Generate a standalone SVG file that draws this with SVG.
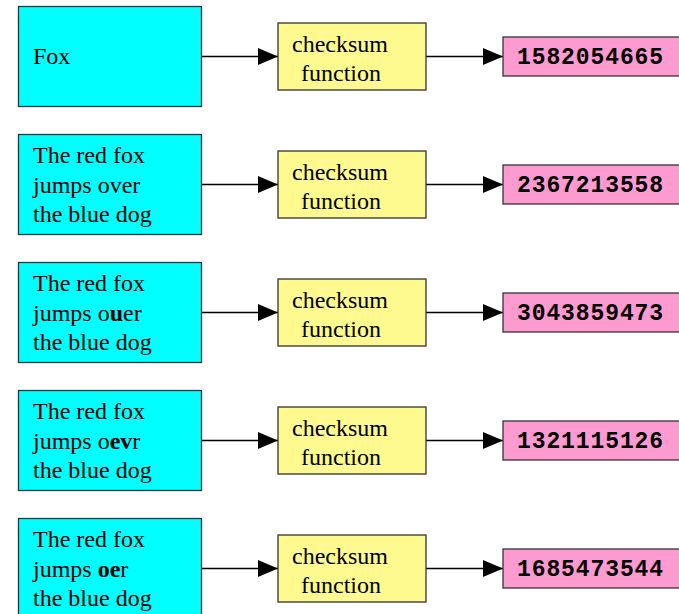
<svg xmlns="http://www.w3.org/2000/svg" width="679" height="614" viewBox="0 0 679 614">
<defs>
<style>
.in{fill:#00ffff;stroke:#333;stroke-width:1.3}
.fn{fill:#fffa8f;stroke:#333;stroke-width:1.3}
.out{fill:#fd9ad0;stroke:#333;stroke-width:1.3}
.t{font-family:"Liberation Serif","Times New Roman",serif;font-size:24px;fill:#000}
.c{text-anchor:middle}
.m{font-family:"Liberation Mono","Courier New",monospace;font-weight:bold;font-size:23px;letter-spacing:0.9px;fill:#000}
.e{stroke:#000;stroke-width:1.6;fill:none}
</style>
<marker id="ah" markerWidth="20" markerHeight="18" refX="20" refY="9" orient="auto" markerUnits="userSpaceOnUse">
<path d="M0,0.5 L20,9 L0,17.5 z" fill="#000"/>
</marker>
</defs>
<rect width="679" height="614" fill="#fff"/>
<g id="connectors">
<line class="e" x1="201.5" y1="56.5" x2="278" y2="56.5" marker-end="url(#ah)"/>
<line class="e" x1="426" y1="56.5" x2="503" y2="56.5" marker-end="url(#ah)"/>
<line class="e" x1="201.5" y1="184.5" x2="278" y2="184.5" marker-end="url(#ah)"/>
<line class="e" x1="426" y1="184.5" x2="503" y2="184.5" marker-end="url(#ah)"/>
<line class="e" x1="201.5" y1="312.5" x2="278" y2="312.5" marker-end="url(#ah)"/>
<line class="e" x1="426" y1="312.5" x2="503" y2="312.5" marker-end="url(#ah)"/>
<line class="e" x1="201.5" y1="440.5" x2="278" y2="440.5" marker-end="url(#ah)"/>
<line class="e" x1="426" y1="440.5" x2="503" y2="440.5" marker-end="url(#ah)"/>
<line class="e" x1="201.5" y1="568.5" x2="278" y2="568.5" marker-end="url(#ah)"/>
<line class="e" x1="426" y1="568.5" x2="503" y2="568.5" marker-end="url(#ah)"/>
</g>
<g id="in1"><rect class="in" x="18.5" y="6.5" width="183" height="100"/><text class="t" x="33" y="64">Fox</text></g>
<g id="fn1"><rect class="fn" x="278" y="23" width="148" height="67"/><text class="t c" x="340" y="52">checksum</text><text class="t c" x="341" y="81">function</text></g>
<g id="out1"><rect class="out" x="503" y="37" width="180" height="39"/><text class="m" x="517" y="64">1582054665</text></g>

<g id="in2"><rect class="in" x="18.5" y="134.5" width="183" height="100"/><text class="t" x="33" y="163">The red fox</text><text class="t" x="33" y="193">jumps over</text><text class="t" x="33" y="222">the blue dog</text></g>
<g id="fn2"><rect class="fn" x="278" y="151" width="148" height="67"/><text class="t c" x="340" y="180">checksum</text><text class="t c" x="341" y="209">function</text></g>
<g id="out2"><rect class="out" x="503" y="165" width="180" height="39"/><text class="m" x="517" y="192">2367213558</text></g>

<g id="in3"><rect class="in" x="18.5" y="262.5" width="183" height="100"/><text class="t" x="33" y="291">The red fox</text><text class="t" x="33" y="321">jumps o<tspan font-weight="bold">u</tspan>er</text><text class="t" x="33" y="350">the blue dog</text></g>
<g id="fn3"><rect class="fn" x="278" y="279" width="148" height="67"/><text class="t c" x="340" y="308">checksum</text><text class="t c" x="341" y="337">function</text></g>
<g id="out3"><rect class="out" x="503" y="293" width="180" height="39"/><text class="m" x="517" y="320">3043859473</text></g>

<g id="in4"><rect class="in" x="18.5" y="390.5" width="183" height="100"/><text class="t" x="33" y="419">The red fox</text><text class="t" x="33" y="449">jumps o<tspan font-weight="bold">ev</tspan>r</text><text class="t" x="33" y="478">the blue dog</text></g>
<g id="fn4"><rect class="fn" x="278" y="407" width="148" height="67"/><text class="t c" x="340" y="436">checksum</text><text class="t c" x="341" y="465">function</text></g>
<g id="out4"><rect class="out" x="503" y="421" width="180" height="39"/><text class="m" x="517" y="448">1321115126</text></g>

<g id="in5"><rect class="in" x="18.5" y="518.5" width="183" height="100"/><text class="t" x="33" y="547">The red fox</text><text class="t" x="33" y="577">jumps <tspan font-weight="bold">oe</tspan>r</text><text class="t" x="33" y="606">the blue dog</text></g>
<g id="fn5"><rect class="fn" x="278" y="535" width="148" height="67"/><text class="t c" x="340" y="564">checksum</text><text class="t c" x="341" y="593">function</text></g>
<g id="out5"><rect class="out" x="503" y="549" width="180" height="39"/><text class="m" x="517" y="576">1685473544</text></g>
</svg>
